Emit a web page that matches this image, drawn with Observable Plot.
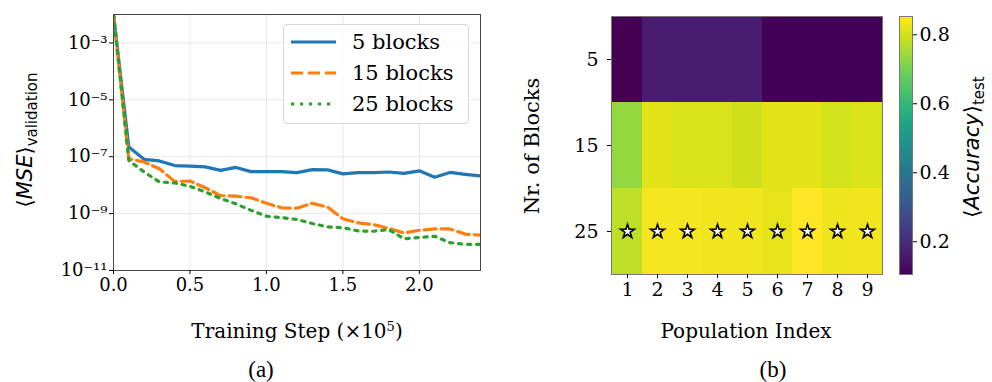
<!DOCTYPE html>
<html><head><meta charset="utf-8">
<script src="https://cdn.jsdelivr.net/npm/d3@7"></script>
<script src="https://cdn.jsdelivr.net/npm/@observablehq/plot@0.6"></script>
<style>
body{margin:0;background:#fff;}
#root{position:relative;width:992px;height:382px;overflow:hidden;font-family:"DejaVu Serif";color:#000;}
.abs{position:absolute;white-space:nowrap;}
.c{transform:translate(-50%,-50%);}
.r{transform:translate(-50%,-50%) rotate(-90deg);}
</style></head><body><div id="root"></div>
<script>
// ---- Panel (a) data ----
const steps = [0,0.1,0.2,0.3,0.4,0.5,0.6,0.7,0.8,0.9,1.0,1.1,1.2,1.3,1.4,1.5,1.6,1.7,1.8,1.9,2.0,2.1,2.2,2.3,2.4];
const mse5  = [1e-2,2.2e-7,8.1e-8,7.1e-8,4.9e-8,4.7e-8,4.4e-8,3.3e-8,4.2e-8,3.0e-8,3.0e-8,3.0e-8,2.75e-8,3.5e-8,3.45e-8,2.5e-8,2.75e-8,2.75e-8,2.9e-8,2.6e-8,3.2e-8,1.9e-8,2.8e-8,2.4e-8,2.1e-8];
const mse15 = [1e-2,8.5e-8,6.5e-8,3.8e-8,1.35e-8,1.4e-8,8.1e-9,4.3e-9,4.1e-9,3.6e-9,2.3e-9,1.6e-9,1.55e-9,2.3e-9,1.7e-9,6.6e-10,4.7e-10,4.1e-10,3.0e-10,2.1e-10,2.6e-10,2.9e-10,2.9e-10,1.9e-10,1.75e-10];
const mse25 = [1e-2,7.4e-8,2.9e-8,1.3e-8,1.2e-8,9.1e-9,5.8e-9,3.4e-9,2.2e-9,1.3e-9,8.1e-10,7.2e-10,6.2e-10,4.5e-10,3.4e-10,3.2e-10,2.45e-10,2.4e-10,2.75e-10,1.3e-10,1.45e-10,1.6e-10,9.5e-11,8.3e-11,8.3e-11];
const seriesNames = ["5 blocks","15 blocks","25 blocks"];
const xTicks = [0,0.5,1.0,1.5,2.0];
const yTicks = [1e-11,1e-9,1e-7,1e-5,1e-3];

// ---- Panel (b) data ----
const populations = [1,2,3,4,5,6,7,8,9];
const blocks = [5,15,25];
const acc5  = [0.107,0.161,0.161,0.161,0.161,0.108,0.108,0.108,0.108];
const acc15 = [0.733,0.820,0.812,0.812,0.800,0.818,0.818,0.802,0.810];
const acc25 = [0.778,0.842,0.842,0.838,0.838,0.823,0.853,0.835,0.838];
const bestBlocks = [25,25,25,25,25,25,25,25,25];
const cbTicks = [0.2,0.4,0.6,0.8];
const accDomain = [0.105,0.853];

const root = document.getElementById("root");
function place(el, left, top){ el.style.position="absolute"; el.style.left=left+"px"; el.style.top=top+"px"; root.appendChild(el); }
const sup = {"-":"⁻","0":"⁰","1":"¹","2":"²","3":"³","4":"⁴","5":"⁵","6":"⁶","7":"⁷","8":"⁸","9":"⁹"};
const logFmt = d => "10" + String(Math.round(Math.log10(d))).split("").map(c=>sup[c]).join("");

const colors = ["#1f77b4","#ff7f0e","#2ca02c"];
const dashes = [null,"12,5","3.2,5.8"];
const mk = arr => steps.map((s,i)=>({step:s, v:arr[i]}));
const style = {fontFamily:"DejaVu Serif", fontSize:"18px", background:"transparent", overflow:"visible", color:"#000"};

// Panel (a)
const pa = Plot.plot({
  width:500, height:300, marginLeft:113, marginRight:20, marginTop:14, marginBottom:30,
  style,
  x:{domain:[0,2.4]},
  y:{type:"log", domain:[1e-11,1e-2]},
  marks:[
    Plot.gridX(xTicks,{stroke:"#b0b0b0", strokeOpacity:0.28}),
    Plot.gridY(yTicks,{stroke:"#b0b0b0", strokeOpacity:0.28}),
    Plot.line(mk(mse5),{x:"step",y:"v",stroke:colors[0],strokeWidth:3.2,clip:true}),
    Plot.line(mk(mse15),{x:"step",y:"v",stroke:colors[1],strokeWidth:3.2,strokeDasharray:dashes[1],clip:true}),
    Plot.line(mk(mse25),{x:"step",y:"v",stroke:colors[2],strokeWidth:3.2,strokeDasharray:dashes[2],clip:true}),
    Plot.frame({stroke:"#444"}),
    Plot.axisX({ticks:xTicks, tickFormat:d3.format(".1f"), tickSize:4, tickPadding:4, label:null, fontSize:18}),
    Plot.axisY({ticks:yTicks, tickFormat:logFmt, tickSize:4, tickPadding:2, label:null, fontSize:18})
  ]
});
place(pa, 0, 0);

// Legend for (a)
const lg = document.createElement("div");
lg.style.cssText="width:184px;height:98px;border:1px solid #d6d6d6;border-radius:4px;background:rgba(255,255,255,0.85);";
const ns="http://www.w3.org/2000/svg";
const lsvg=document.createElementNS(ns,"svg"); lsvg.setAttribute("width","184"); lsvg.setAttribute("height","98");
seriesNames.forEach((n,i)=>{
  const y = 17 + i*31;
  const ln=document.createElementNS(ns,"line");
  ln.setAttribute("x1","7"); ln.setAttribute("x2","52"); ln.setAttribute("y1",y); ln.setAttribute("y2",y);
  ln.setAttribute("stroke",colors[i]); ln.setAttribute("stroke-width","3.2");
  if(dashes[i]) ln.setAttribute("stroke-dasharray",dashes[i]);
  lsvg.appendChild(ln);
  const t=document.createElementNS(ns,"text");
  t.setAttribute("x","68"); t.setAttribute("y",y); t.setAttribute("dy","0.35em");
  t.setAttribute("font-family","DejaVu Serif"); t.setAttribute("font-size","21");
  t.textContent=n; lsvg.appendChild(t);
});
lg.appendChild(lsvg);
place(lg, 283, 24);

// Panel (b) heatmap
const cells = [];
blocks.forEach((b,j)=>{ const arr=[acc5,acc15,acc25][j]; populations.forEach((p,i)=>cells.push({pop:p, blocks:b, acc:arr[i]})); });
const stars = populations.map((p,i)=>({pop:p, blocks:bestBlocks[i]}));
const color = {type:"linear", scheme:"viridis", domain:accDomain};
const pb = Plot.plot({
  width:330, height:310, marginLeft:51, marginRight:8, marginTop:16, marginBottom:36,
  style,
  color,
  x:{type:"band", domain:populations, padding:0},
  y:{type:"band", domain:blocks, padding:0},
  marks:[
    Plot.cell(cells,{x:"pop", y:"blocks", fill:"acc", inset:0}),
    Plot.dot(stars,{x:"pop", y:"blocks", symbol:"star", r:4.3, fill:"white", stroke:"black", strokeWidth:1.6}),
    Plot.frame({stroke:"#777"}),
    Plot.axisX({tickSize:4, tickPadding:4, label:null, fontSize:19}),
    Plot.axisY({tickSize:4, tickPadding:9, label:null, fontSize:19})
  ]
});
place(pb, 560, 0);

// Colorbar
const pc = Plot.plot({
  width:112, height:310, marginLeft:19, marginRight:80, marginTop:16, marginBottom:36,
  style,
  color,
  x:{domain:[0,1], axis:null},
  y:{domain:accDomain},
  marks:[
    Plot.raster({x1:0, x2:1, y1:accDomain[0], y2:accDomain[1], width:1, height:258, fill:(x,y)=>y, imageRendering:"auto"}),
    Plot.frame({stroke:"#777"}),
    Plot.axisY({anchor:"right", ticks:cbTicks, tickFormat:d3.format(".1f"), tickSize:4, tickPadding:3, label:null, fontSize:19})
  ]
});
place(pc, 880, 0);

// Text labels
function label(html, x, y, cls, css){ const d=document.createElement("div"); d.className="abs "+cls; d.innerHTML=html; d.style.cssText+=css; d.style.left=x+"px"; d.style.top=y+"px"; root.appendChild(d); }
label("Training Step (×10<sup style='font-size:13px;vertical-align:7px;line-height:0'>5</sup>)", 297, 331, "c", "font-size:20px;font-family:'DejaVu Serif';");
label("Population Index", 746, 331, "c", "font-size:20px;font-family:'DejaVu Serif';");
label("(a)", 261, 370, "c", "font-size:23px;font-family:'Liberation Serif';");
label("(b)", 773, 370, "c", "font-size:23px;font-family:'Liberation Serif';");
label("Nr. of Blocks", 532, 146, "r", "font-size:21px;font-family:'DejaVu Serif';");
label("⟨<i>MSE</i>⟩<span style='font-size:15px;position:relative;top:5px'>validation</span>", 25, 140, "r", "font-size:21px;font-family:'DejaVu Sans';");
label("⟨<i>Accuracy</i>⟩<span style='font-size:15px;position:relative;top:5px'>test</span>", 972, 147, "r", "font-size:21px;font-family:'DejaVu Sans';");
</script></body></html>
